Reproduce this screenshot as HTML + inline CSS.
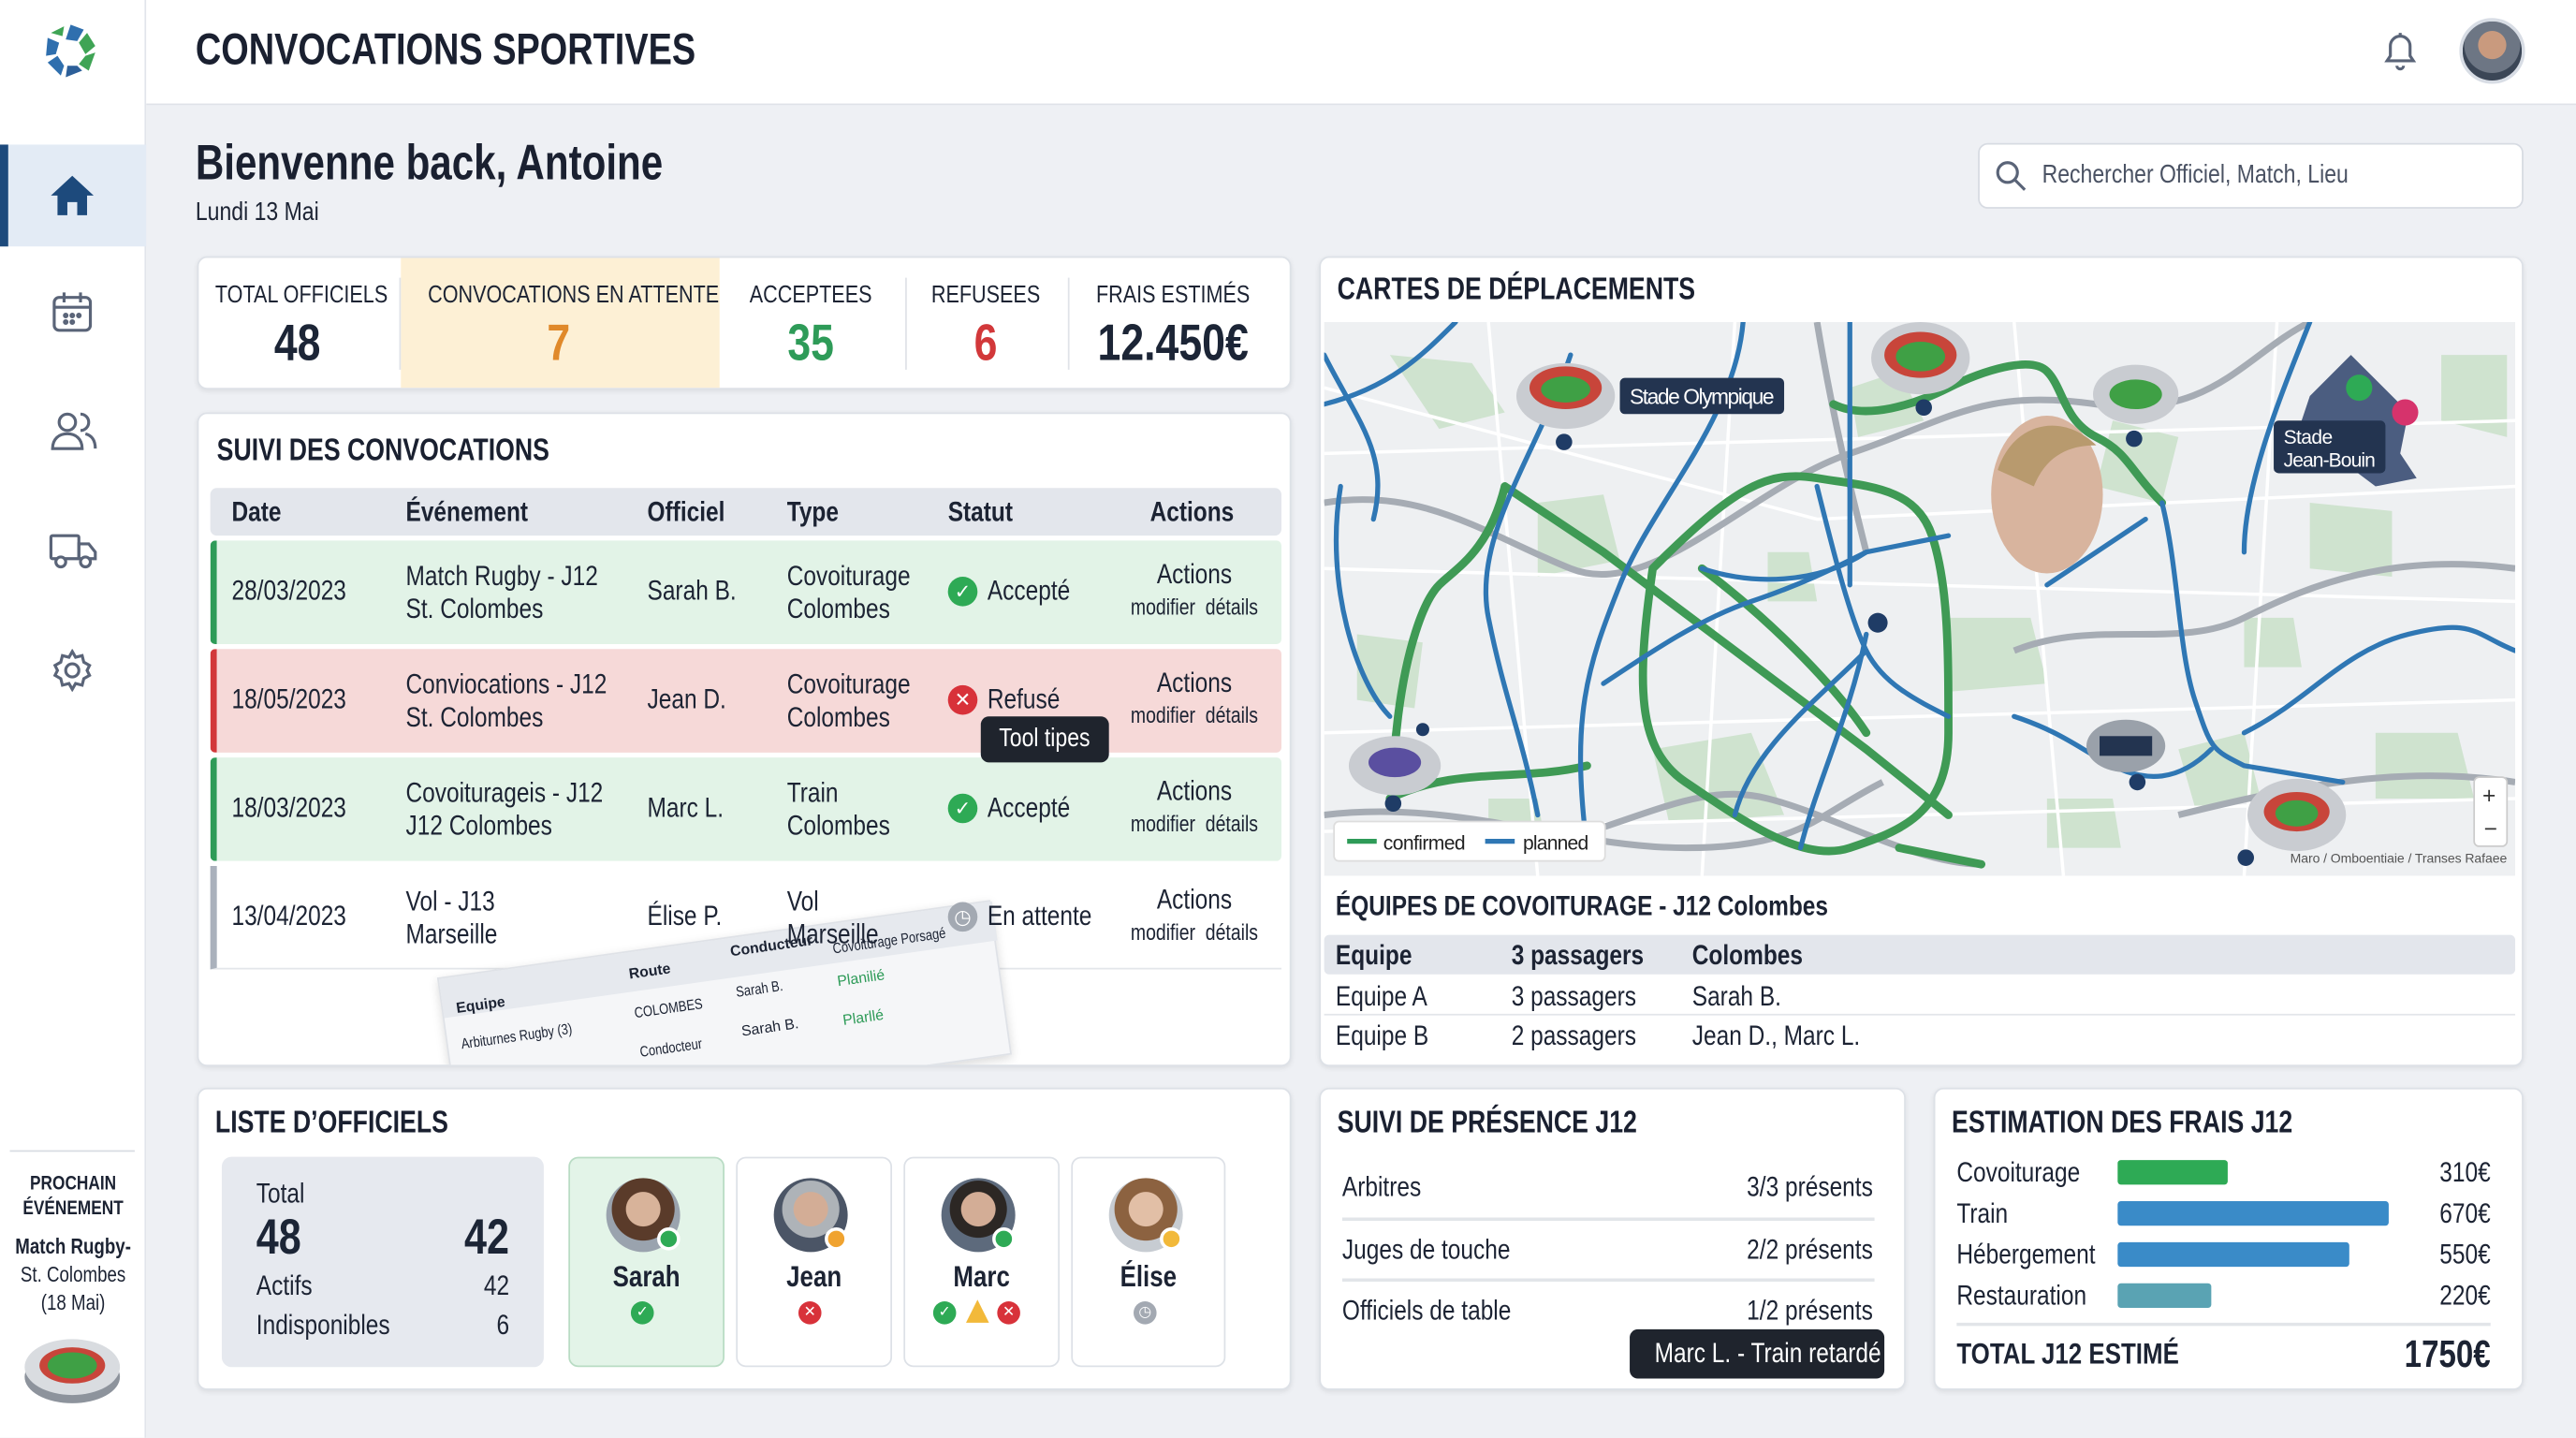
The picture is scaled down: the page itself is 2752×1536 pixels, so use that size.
<!DOCTYPE html>
<html><head><meta charset="utf-8">
<style>
*{box-sizing:border-box;margin:0;padding:0}
html,body{width:2752px;height:1536px;overflow:hidden;background:#eef0f4}
#w{position:absolute;left:0;top:0;width:1568px;height:875px;transform:scale(1.7551);transform-origin:0 0;font-family:"Liberation Sans",sans-serif;color:#1c2333;background:#eef0f4}
.a{position:absolute}
.card{position:absolute;background:#fff;border:1px solid #dde1e7;border-radius:6px;box-shadow:0 1px 3px rgba(0,0,0,.08)}
.n{transform:scaleX(.82);transform-origin:0 0;white-space:nowrap}
.c{transform-origin:50% 0}
.r{transform-origin:100% 0}
.h{font-weight:bold;font-size:19px;color:#1a2030;transform:scaleX(.8);transform-origin:0 0;white-space:nowrap}
.t{font-size:16px;white-space:nowrap}
.ic{position:absolute;border-radius:50%;width:18px;height:18px;color:#fff;font-size:12px;text-align:center;line-height:18px;font-family:"DejaVu Sans",sans-serif}
.sp{display:inline-block;transform:scaleX(.82)}
</style></head><body><div id="w">
<!-- sidebar -->
<div class="a" style="left:0;top:0;width:89px;height:875px;background:#fff;border-right:1px solid #e1e4ea"></div>
<svg class="a" style="left:26px;top:13px" width="34" height="36" viewBox="0 0 34 36">
<path d="M17 2 L25 5 L21 12 L14 11 Z" fill="#2f6fae"/><path d="M27 7 L32 15 L26 20 L22 13 Z" fill="#3fa455"/><path d="M32 19 L28 30 L22 26 L26 21Z" fill="#3fa455"/><path d="M24 30 L14 34 L15 27 L21 27Z" fill="#2c5f99"/><path d="M11 33 L3 25 L9 21 L13 27Z" fill="#2f6fae"/><path d="M2 21 L3 10 L10 13 L8 20Z" fill="#2f6fae"/><path d="M5 7 L13 3 L12 9 Z" fill="#3fa455"/>
</svg>
<div class="a" style="left:0;top:88px;width:89px;height:62px;background:#e3ebf5"></div>
<div class="a" style="left:0;top:88px;width:5px;height:62px;background:#1d4a7c"></div>
<svg class="a" style="left:30px;top:104px" width="28" height="28" viewBox="0 0 28 28"><path d="M14 3 L27 15 H23 V27 H17 V19 H11 V27 H5 V15 H1 Z" fill="#1d4a7c"/></svg>
<svg class="a" style="left:31px;top:177px" width="26" height="26" viewBox="0 0 26 26" fill="none" stroke="#5a6478" stroke-width="1.8"><rect x="2" y="4" width="22" height="20" rx="3"/><path d="M2 10h22M8 1v6M18 1v6"/><circle cx="9" cy="15" r=".8"/><circle cx="13" cy="15" r=".8"/><circle cx="17" cy="15" r=".8"/><circle cx="9" cy="19" r=".8"/><circle cx="13" cy="19" r=".8"/></svg>
<svg class="a" style="left:30px;top:249px" width="30" height="26" viewBox="0 0 30 26" fill="none" stroke="#5a6478" stroke-width="1.8"><circle cx="11" cy="8" r="5"/><path d="M2 24c0-6 4-9 9-9s9 3 9 9z"/><path d="M19 3a5 5 0 0 1 0 10M22 15c4 1 6 4 6 9"/></svg>
<svg class="a" style="left:29px;top:323px" width="30" height="24" viewBox="0 0 30 24" fill="none" stroke="#5a6478" stroke-width="1.8"><rect x="2" y="3" width="17" height="14" rx="1"/><path d="M19 8h6l4 5v4h-10z"/><circle cx="8" cy="19" r="3" fill="#fff"/><circle cx="23" cy="19" r="3" fill="#fff"/></svg>
<svg class="a" style="left:31px;top:395px" width="26" height="26" viewBox="0 0 26 26" fill="none" stroke="#5a6478" stroke-width="1.8"><circle cx="13" cy="13" r="4"/><path d="M13 1.5l2 3.5 4-1 1 4 3.5 2-1.5 3 1.5 3-3.5 2-1 4-4-1-2 3.5-2-3.5-4 1-1-4-3.5-2 1.5-3-1.5-3 3.5-2 1-4 4 1z"/></svg>
<div class="a" style="left:6px;top:700px;width:76px;height:1px;background:#d8dce3"></div>
<div class="a n c" style="left:0;top:713px;width:89px;text-align:center;font-size:12px;font-weight:bold;line-height:15px">PROCHAIN<br>ÉVÉNEMENT</div>
<div class="a n c" style="left:0;top:750px;width:89px;text-align:center;font-size:13px;line-height:17px"><b>Match Rugby-</b><br>St. Colombes<br>(18 Mai)</div>
<svg class="a" style="left:14px;top:810px" width="60" height="46" viewBox="0 0 60 46"><ellipse cx="30" cy="28" rx="29" ry="16" fill="#8d939c"/><ellipse cx="30" cy="22" rx="29" ry="17" fill="#d9dce0"/><ellipse cx="30" cy="21" rx="20" ry="11" fill="#c8453a"/><ellipse cx="30" cy="21" rx="15" ry="8" fill="#3fa045"/></svg>
<!-- header -->
<div class="a" style="left:89px;top:0;width:1479px;height:64px;background:#fff;border-bottom:1px solid #dfe2e8"></div>
<div class="a h" style="left:119px;top:15px;font-size:27px">CONVOCATIONS SPORTIVES</div>
<svg class="a" style="left:1449px;top:18px" width="24" height="26" viewBox="0 0 24 26" fill="none" stroke="#5a6478" stroke-width="1.8"><path d="M4 19h16l-2-3V10a6 6 0 0 0-12 0v6z"/><path d="M10 22a2 2 0 0 0 4 0M12 2v2"/></svg>
<div class="a" style="left:1497px;top:11px;width:40px;height:40px;border-radius:50%;background:radial-gradient(circle at 50% 40%,#c99a7e 0 30%,#6d7684 31% 60%,#3b4656 61%);border:2px solid #d8dde5"></div>
<!-- welcome -->
<div class="a h" style="left:119px;top:83px;font-size:30px">Bienvenne back, Antoine</div>
<div class="a t n" style="left:119px;top:121px">Lundi 13 Mai</div>
<div class="a" style="left:1204px;top:87px;width:332px;height:40px;background:#fff;border:1px solid #d7dbe2;border-radius:6px"></div>
<svg class="a" style="left:1214px;top:97px" width="20" height="20" viewBox="0 0 20 20" fill="none" stroke="#5a6478" stroke-width="1.8"><circle cx="8" cy="8" r="6"/><path d="M12.5 12.5l6 6"/></svg>
<div class="a t n" style="left:1243px;top:98px;color:#4a5263">Rechercher Officiel, Match, Lieu</div>
<!-- KPI -->
<div class="card" style="left:120px;top:156px;width:666px;height:81px;overflow:hidden">
<div class="a" style="left:123px;top:0;width:194px;height:81px;background:#fdf0d5"></div>
<div class="a" style="left:430px;top:12px;width:1px;height:56px;background:#e0e3e8"></div>
<div class="a" style="left:529px;top:12px;width:1px;height:56px;background:#e0e3e8"></div>
<div class="a" style="left:122px;top:12px;width:1px;height:56px;background:#e0e3e8"></div>
</div>
<div class="a t n c" style="left:120px;top:171px;width:122px;text-align:center;font-size:15px">TOTAL OFFICIELS</div>
<div class="a t n c" style="left:243px;top:171px;width:194px;text-align:center;font-size:15px">CONVOCATIONS EN ATTENTE</div>
<div class="a t n c" style="left:437px;top:171px;width:113px;text-align:center;font-size:15px">ACCEPTEES</div>
<div class="a t n c" style="left:550px;top:171px;width:100px;text-align:center;font-size:15px">REFUSEES</div>
<div class="a t n c" style="left:650px;top:171px;width:128px;text-align:center;font-size:15px">FRAIS ESTIMÉS</div>
<div class="a n c" style="left:120px;top:191px;width:122px;text-align:center;font-size:31px;font-weight:bold;color:#1c2536">48</div>
<div class="a n c" style="left:243px;top:191px;width:194px;text-align:center;font-size:31px;font-weight:bold;color:#e0892a">7</div>
<div class="a n c" style="left:437px;top:191px;width:113px;text-align:center;font-size:31px;font-weight:bold;color:#2e9b58">35</div>
<div class="a n c" style="left:550px;top:191px;width:100px;text-align:center;font-size:31px;font-weight:bold;color:#d2383a">6</div>
<div class="a n c" style="left:650px;top:191px;width:128px;text-align:center;font-size:31px;font-weight:bold;color:#1c2536">12.450€</div>
<!-- Suivi -->
<div class="card" style="left:120px;top:251px;width:666px;height:398px;overflow:hidden">
 <div class="a h" style="left:11px;top:12px">SUIVI DES CONVOCATIONS</div>
 <div class="a" style="left:7px;top:45px;width:652px;height:29px;background:#e3e6ec;border-radius:4px"></div>
 <div class="a" style="left:7px;top:77px;width:652px;height:63px;background:#e2f3e7;border-left:4px solid #2e9b58;border-radius:3px"></div>
 <div class="a" style="left:7px;top:143px;width:652px;height:63px;background:#f6d9d8;border-left:4px solid #d2383a;border-radius:3px"></div>
 <div class="a" style="left:7px;top:209px;width:652px;height:63px;background:#e2f3e7;border-left:4px solid #2e9b58;border-radius:3px"></div>
 <div class="a" style="left:7px;top:275px;width:652px;height:63px;background:#fff;border-left:4px solid #aab1bc;border-bottom:1px solid #e3e6ea"></div>
 <div class="a" style="left:145px;top:343px;width:340px;height:95px;transform:rotate(-8deg);transform-origin:0 0;background:#f5f6f8;border:1px solid #dfe2e7;box-shadow:0 2px 6px rgba(0,0,0,.15);font-size:9px">
  <div class="a" style="left:0;top:0;width:340px;height:24px;background:#e6e9ee"></div>
  <div class="a" style="left:8px;top:14px;font-weight:bold">Equipe</div>
  <div class="a" style="left:115px;top:8px;font-weight:bold">Route</div>
  <div class="a" style="left:178px;top:3px;font-weight:bold">Conducteur</div>
  <div class="a n" style="left:240px;top:10px;font-size:9px">Covoiturage Porsagé</div>
  <div class="a n" style="left:8px;top:36px">Arbiturnes Rugby (3)</div>
  <div class="a n" style="left:115px;top:32px">COLOMBES</div>
  <div class="a n" style="left:178px;top:28px">Sarah B.</div>
  <div class="a" style="left:240px;top:30px;color:#2e9b58">Planilié</div>
  <div class="a n" style="left:115px;top:56px">Condocteur</div>
  <div class="a" style="left:178px;top:52px">Sarah B.</div>
  <div class="a" style="left:240px;top:54px;color:#2e9b58">Plarllé</div>
  <div class="a" style="left:8px;top:62px">Rugby</div>
 </div>
</div>
<div class="a t n" style="left:141px;top:302px;font-weight:bold;font-size:17px">Date</div>
<div class="a t n" style="left:247px;top:302px;font-weight:bold;font-size:17px">Événement</div>
<div class="a t n" style="left:394px;top:302px;font-weight:bold;font-size:17px">Officiel</div>
<div class="a t n" style="left:479px;top:302px;font-weight:bold;font-size:17px">Type</div>
<div class="a t n" style="left:577px;top:302px;font-weight:bold;font-size:17px">Statut</div>
<div class="a t n" style="left:700px;top:302px;font-weight:bold;font-size:17px">Actions</div>
<!-- rows -->
<div class="a t n" style="left:141px;top:350px;font-size:17px">28/03/2023</div>
<div class="a t n" style="left:247px;top:341px;line-height:20px;font-size:17px">Match Rugby - J12<br>St. Colombes</div>
<div class="a t n" style="left:394px;top:350px;font-size:17px">Sarah B.</div>
<div class="a t n" style="left:479px;top:341px;line-height:20px;font-size:17px">Covoiturage<br>Colombes</div>
<div class="ic" style="left:577px;top:351px;background:#2eaa55">✓</div><div class="a t n" style="left:601px;top:350px;font-size:17px">Accepté</div>
<div class="a t n c" style="left:681px;top:340px;width:92px;text-align:center;font-size:17px">Actions</div><div class="a n c" style="left:671px;top:362px;width:112px;text-align:center;font-size:13.5px">modifier&nbsp; détails</div>

<div class="a t n" style="left:141px;top:416px;font-size:17px">18/05/2023</div>
<div class="a t n" style="left:247px;top:407px;line-height:20px;font-size:17px">Conviocations - J12<br>St. Colombes</div>
<div class="a t n" style="left:394px;top:416px;font-size:17px">Jean D.</div>
<div class="a t n" style="left:479px;top:407px;line-height:20px;font-size:17px">Covoiturage<br>Colombes</div>
<div class="ic" style="left:577px;top:417px;background:#d8323a">✕</div><div class="a t n" style="left:601px;top:416px;font-size:17px">Refusé</div>
<div class="a t n c" style="left:681px;top:406px;width:92px;text-align:center;font-size:17px">Actions</div><div class="a n c" style="left:671px;top:428px;width:112px;text-align:center;font-size:13.5px">modifier&nbsp; détails</div>
<div class="a" style="left:597px;top:436px;width:78px;height:28px;background:#1f242d;border-radius:5px;color:#fff;font-size:16px;text-align:center;line-height:28px"><span class="sp">Tool tipes</span></div>

<div class="a t n" style="left:141px;top:482px;font-size:17px">18/03/2023</div>
<div class="a t n" style="left:247px;top:473px;line-height:20px;font-size:17px">Covoiturageis - J12<br>J12 Colombes</div>
<div class="a t n" style="left:394px;top:482px;font-size:17px">Marc L.</div>
<div class="a t n" style="left:479px;top:473px;line-height:20px;font-size:17px">Train<br>Colombes</div>
<div class="ic" style="left:577px;top:483px;background:#2eaa55">✓</div><div class="a t n" style="left:601px;top:482px;font-size:17px">Accepté</div>
<div class="a t n c" style="left:681px;top:472px;width:92px;text-align:center;font-size:17px">Actions</div><div class="a n c" style="left:671px;top:494px;width:112px;text-align:center;font-size:13.5px">modifier&nbsp; détails</div>

<div class="a t n" style="left:141px;top:548px;font-size:17px">13/04/2023</div>
<div class="a t n" style="left:247px;top:539px;line-height:20px;font-size:17px">Vol - J13<br>Marseille</div>
<div class="a t n" style="left:394px;top:548px;font-size:17px">Élise P.</div>
<div class="a t n" style="left:479px;top:539px;line-height:20px;font-size:17px">Vol<br>Marseille</div>
<div class="ic" style="left:577px;top:549px;background:#a3a9b2">◷</div><div class="a t n" style="left:601px;top:548px;font-size:17px">En attente</div>
<div class="a t n c" style="left:681px;top:538px;width:92px;text-align:center;font-size:17px">Actions</div><div class="a n c" style="left:671px;top:560px;width:112px;text-align:center;font-size:13.5px">modifier&nbsp; détails</div>

<!-- Map card -->
<div class="card" style="left:803px;top:156px;width:733px;height:493px"></div>
<div class="a h" style="left:814px;top:166px">CARTES DE DÉPLACEMENTS</div>
<svg class="a" style="left:806px;top:196px" width="725" height="337" viewBox="0 0 725 337">
<rect width="725" height="337" fill="#eef0f2"/>
<g fill="#cfe3cf">
<path d="M40 20 l50 5 20 30 -40 10z"/><path d="M130 110 l40 -5 10 40 -50 10z"/><path d="M200 260 l60 -10 20 50 -70 5z"/><path d="M380 180 l50 0 10 40 -60 5z"/><path d="M480 60 l40 10 -10 40 -40 -10z"/><path d="M600 110 l50 5 0 40 -50 -5z"/><path d="M640 250 l50 0 10 40 -60 0z"/><path d="M20 190 l40 5 -5 40 -35 -5z"/><path d="M320 40 l30 -10 15 30 -40 10z"/><path d="M520 260 l40 -10 10 40 -40 5z"/><path d="M270 140 l25 0 5 30 -30 0z"/><path d="M560 180 l30 0 5 30 -35 0z"/><path d="M100 290 l30 0 5 30 -35 0z"/><path d="M680 20 l40 0 0 50 -40 -10z"/><path d="M440 290 l40 0 5 30 -45 0z"/>
</g>
<g fill="none" stroke="#fff" stroke-width="2"><path d="M0 80 L725 60M0 150 L725 170M0 250 L725 230M100 0 L130 337M250 0 L230 337M420 0 L450 337M580 0 L560 337M0 40 L300 120 L725 100M0 310 L725 290"/></g>
<g fill="none" stroke="#a6acb4" stroke-width="4"><path d="M0 110 C60 100 100 130 150 150 S260 100 320 80 S400 40 470 50 S560 20 600 0"/><path d="M0 300 C80 290 150 320 220 320 S300 300 340 280"/><path d="M130 320 C200 300 230 280 270 290 S360 330 400 330"/><path d="M420 200 C470 180 520 200 560 180 S650 140 725 150"/><path d="M520 300 C600 280 660 270 725 280"/><path d="M300 0 C310 60 320 100 330 140"/></g>
<g fill="none" stroke="#3f9a55" stroke-width="5" stroke-linecap="round"><path d="M110 100 L170 140 L250 200 L330 260 L380 300"/><path d="M110 100 C100 140 80 150 70 160 S50 200 45 240 L40 285"/><path d="M40 290 C80 270 120 280 160 270"/><path d="M230 150 C270 180 310 220 330 250"/><path d="M200 150 C250 100 270 90 300 95 S360 100 370 130 S380 200 380 250 S350 310 320 320 S250 300 220 280 S190 220 200 150"/><path d="M310 50 C330 60 360 50 380 40 S430 20 440 30 S450 60 470 70 S490 90 510 110"/><path d="M350 320 L400 330"/></g>
<g fill="none" stroke="#2f77b4" stroke-width="3" stroke-linecap="round"><path d="M0 50 C40 40 60 20 80 0"/><path d="M10 100 C0 160 20 220 40 240"/><path d="M150 20 C130 80 90 130 100 180 S120 250 130 300"/><path d="M170 220 C200 200 230 180 260 170 S310 150 330 140"/><path d="M255 0 C250 60 200 110 180 160 S150 240 160 320"/><path d="M320 0 L320 160"/><path d="M300 100 C310 140 320 180 330 200 S360 230 380 240"/><path d="M330 190 C320 240 300 280 290 320"/><path d="M230 150 C260 160 300 160 330 140 L380 130"/><path d="M420 240 C450 250 460 260 480 270 S520 280 540 260"/><path d="M510 110 C520 150 520 200 530 230 S540 260 560 270 L620 280"/><path d="M500 120 L440 160"/><path d="M560 250 C600 230 620 200 660 190 S700 190 725 200"/><path d="M0 20 C20 60 40 80 30 120"/><path d="M330 200 C300 230 260 260 250 300"/><path d="M600 0 C580 50 560 100 560 140"/></g>
<ellipse cx="440" cy="105" rx="34" ry="48" fill="#d8b49e"/><path d="M410 90 C420 60 450 55 470 75 C455 75 440 80 432 100 Z" fill="#b89a6e"/>
<path d="M600 45 L625 20 L640 35 L660 55 L655 80 L665 95 L640 100 L620 85 L600 80 L595 60 Z" fill="#4b5d80"/>
<circle cx="630" cy="40" r="8" fill="#2eaa55"/><circle cx="658" cy="55" r="8" fill="#d6336c"/>
<rect x="578" y="60" width="68" height="32" rx="3" fill="#233450"/>
<text x="584" y="74" fill="#fff" font-size="12" font-family="Liberation Sans,sans-serif" textLength="30">Stade</text>
<text x="584" y="88" fill="#fff" font-size="12" font-family="Liberation Sans,sans-serif" textLength="56">Jean-Bouin</text>
<rect x="180" y="34" width="100" height="22" rx="3" fill="#233450"/>
<text x="186" y="50" fill="#fff" font-size="13" font-family="Liberation Sans,sans-serif" textLength="88">Stade Olympique</text>
<g><ellipse cx="147" cy="45" rx="30" ry="20" fill="#c9ccd1"/><ellipse cx="147" cy="40" rx="22" ry="13" fill="#c8453a"/><ellipse cx="147" cy="41" rx="15" ry="8" fill="#3fa045"/></g>
<g><ellipse cx="363" cy="22" rx="30" ry="22" fill="#c9ccd1"/><ellipse cx="363" cy="20" rx="22" ry="14" fill="#c8453a"/><ellipse cx="363" cy="21" rx="15" ry="9" fill="#3fa045"/></g>
<g><ellipse cx="494" cy="44" rx="26" ry="18" fill="#c9ccd1"/><ellipse cx="494" cy="44" rx="16" ry="9" fill="#3fa045"/></g>
<g><ellipse cx="43" cy="270" rx="28" ry="18" fill="#c9ccd1"/><ellipse cx="43" cy="268" rx="16" ry="9" fill="#5a4fa0"/></g>
<g><ellipse cx="488" cy="258" rx="24" ry="16" fill="#9aa1aa"/><rect x="472" y="252" width="32" height="12" fill="#233450"/></g>
<g><ellipse cx="592" cy="300" rx="30" ry="22" fill="#c9ccd1"/><ellipse cx="592" cy="298" rx="20" ry="12" fill="#c8453a"/><ellipse cx="592" cy="299" rx="13" ry="8" fill="#3fa045"/></g>
<g fill="#1f3c66"><circle cx="146" cy="73" r="5"/><circle cx="365" cy="52" r="5"/><circle cx="493" cy="71" r="5"/><circle cx="337" cy="183" r="6"/><circle cx="60" cy="248" r="4"/><circle cx="42" cy="293" r="5"/><circle cx="495" cy="280" r="5"/><circle cx="561" cy="326" r="5"/></g>
<rect x="700" y="277" width="20" height="42" rx="3" fill="#fff" stroke="#ccc"/>
<text x="705" y="293" font-size="14" fill="#333">+</text><text x="706" y="313" font-size="14" fill="#333">−</text>
<text x="588" y="329" font-size="8" fill="#555" font-family="Liberation Sans,sans-serif" textLength="132">Maro / Omboentiaie / Transes Rafaee</text>
<rect x="6" y="304" width="165" height="24" rx="3" fill="#fff" stroke="#ddd"/>
<path d="M14 316h18" stroke="#2e9b58" stroke-width="3"/><text x="36" y="321" font-size="12" fill="#222" font-family="Liberation Sans,sans-serif" textLength="50">confirmed</text>
<path d="M98 316h18" stroke="#2f77b4" stroke-width="3"/><text x="121" y="321" font-size="12" fill="#222" font-family="Liberation Sans,sans-serif" textLength="40">planned</text>
</svg>
<div class="a t n" style="left:813px;top:542px;font-weight:bold;font-size:17px">ÉQUIPES DE COVOITURAGE - J12 Colombes</div>
<div class="a" style="left:806px;top:569px;width:725px;height:24px;background:#e3e6ec;border-radius:3px"></div>
<div class="a t n" style="left:813px;top:572px;font-weight:bold;font-size:17px">Equipe</div><div class="a t n" style="left:920px;top:572px;font-weight:bold;font-size:17px">3 passagers</div><div class="a t n" style="left:1030px;top:572px;font-weight:bold;font-size:17px">Colombes</div>
<div class="a t n" style="left:813px;top:597px;font-size:17px">Equipe A</div><div class="a t n" style="left:920px;top:597px;font-size:17px">3 passagers</div><div class="a t n" style="left:1030px;top:597px;font-size:17px">Sarah B.</div>
<div class="a" style="left:806px;top:617px;width:725px;height:1px;background:#e3e6ea"></div>
<div class="a t n" style="left:813px;top:621px;font-size:17px">Equipe B</div><div class="a t n" style="left:920px;top:621px;font-size:17px">2 passagers</div><div class="a t n" style="left:1030px;top:621px;font-size:17px">Jean D., Marc L.</div>
<!-- Liste -->
<div class="card" style="left:120px;top:662px;width:666px;height:184px"></div>
<div class="a h" style="left:131px;top:673px">LISTE D’OFFICIELS</div>
<div class="a" style="left:135px;top:704px;width:196px;height:128px;background:#e6e9ef;border-radius:6px"></div>
<div class="a t n" style="left:156px;top:717px;font-size:17px">Total</div>
<div class="a n" style="left:156px;top:737px;font-size:30px;font-weight:bold;color:#1c2536">48</div>
<div class="a n r" style="left:260px;top:737px;width:50px;text-align:right;font-size:30px;font-weight:bold;color:#1c2536">42</div>
<div class="a t n" style="left:156px;top:773px;font-size:17px">Actifs</div><div class="a t n r" style="left:270px;top:773px;width:40px;text-align:right;font-size:17px">42</div>
<div class="a t n" style="left:156px;top:797px;font-size:17px">Indisponibles</div><div class="a t n r" style="left:270px;top:797px;width:40px;text-align:right;font-size:17px">6</div>
<div class="a" style="left:346px;top:704px;width:95px;height:128px;background:#e3f4e8;border:1px solid #b9dcc4;border-radius:6px"></div>
<div class="a" style="left:448px;top:704px;width:95px;height:128px;background:#fff;border:1px solid #dde1e7;border-radius:6px"></div>
<div class="a" style="left:550px;top:704px;width:95px;height:128px;background:#fff;border:1px solid #dde1e7;border-radius:6px"></div>
<div class="a" style="left:652px;top:704px;width:94px;height:128px;background:#fff;border:1px solid #dde1e7;border-radius:6px"></div>
<div class="a" style="left:369px;top:717px;width:45px;height:45px;border-radius:50%;background:radial-gradient(circle at 50% 42%,#d8b39a 0 30%,#5a3b2a 31% 55%,#9aa3ae 56%)"></div>
<div class="a" style="left:471px;top:717px;width:45px;height:45px;border-radius:50%;background:radial-gradient(circle at 50% 42%,#d3ad96 0 30%,#aeb3b8 31% 50%,#4b5566 51%)"></div>
<div class="a" style="left:573px;top:717px;width:45px;height:45px;border-radius:50%;background:radial-gradient(circle at 50% 42%,#d3ad96 0 30%,#2c2724 31% 50%,#5d6a7c 51%)"></div>
<div class="a" style="left:675px;top:717px;width:45px;height:45px;border-radius:50%;background:radial-gradient(circle at 50% 42%,#e2bfa6 0 30%,#8c6240 31% 55%,#c7ccd2 56%)"></div>
<div class="a" style="left:400px;top:747px;width:14px;height:14px;border-radius:50%;background:#2eaa55;border:2px solid #fff"></div>
<div class="a" style="left:502px;top:747px;width:14px;height:14px;border-radius:50%;background:#f0a330;border:2px solid #fff"></div>
<div class="a" style="left:604px;top:747px;width:14px;height:14px;border-radius:50%;background:#2eaa55;border:2px solid #fff"></div>
<div class="a" style="left:706px;top:747px;width:14px;height:14px;border-radius:50%;background:#f2b93a;border:2px solid #fff"></div>
<div class="a n c" style="left:346px;top:767px;width:95px;text-align:center;font-size:18px;font-weight:bold">Sarah</div>
<div class="a n c" style="left:448px;top:767px;width:95px;text-align:center;font-size:18px;font-weight:bold">Jean</div>
<div class="a n c" style="left:550px;top:767px;width:95px;text-align:center;font-size:18px;font-weight:bold">Marc</div>
<div class="a n c" style="left:652px;top:767px;width:94px;text-align:center;font-size:18px;font-weight:bold">Élise</div>
<div class="ic" style="left:384px;top:792px;width:14px;height:14px;line-height:14px;font-size:9px;background:#2eaa55">✓</div>
<div class="ic" style="left:486px;top:792px;width:14px;height:14px;line-height:14px;font-size:9px;background:#d8323a">✕</div>
<div class="ic" style="left:568px;top:792px;width:14px;height:14px;line-height:14px;font-size:9px;background:#2eaa55">✓</div>
<div class="a" style="left:588px;top:791px;width:0;height:0;border-left:7px solid transparent;border-right:7px solid transparent;border-bottom:14px solid #f2b93a"></div>
<div class="ic" style="left:607px;top:792px;width:14px;height:14px;line-height:14px;font-size:9px;background:#d8323a">✕</div>
<div class="ic" style="left:690px;top:792px;width:14px;height:14px;line-height:14px;font-size:9px;background:#a3a9b2">◷</div>
<!-- presence -->
<div class="card" style="left:803px;top:662px;width:357px;height:184px"></div>
<div class="a h" style="left:814px;top:673px">SUIVI DE PRÉSENCE J12</div>
<div class="a t n" style="left:817px;top:713px;font-size:17px">Arbitres</div><div class="a t n r" style="left:1030px;top:713px;width:110px;text-align:right;font-size:17px">3/3 présents</div>
<div class="a" style="left:817px;top:741px;width:324px;height:2px;background:#e2e5e9"></div>
<div class="a t n" style="left:817px;top:751px;font-size:17px">Juges de touche</div><div class="a t n r" style="left:1030px;top:751px;width:110px;text-align:right;font-size:17px">2/2 présents</div>
<div class="a" style="left:817px;top:778px;width:324px;height:2px;background:#e2e5e9"></div>
<div class="a t n" style="left:817px;top:788px;font-size:17px">Officiels de table</div><div class="a t n r" style="left:1030px;top:788px;width:110px;text-align:right;font-size:17px">1/2 présents</div>
<div class="a" style="left:992px;top:809px;width:155px;height:30px;background:#1f242d;border-radius:5px;color:#fff;font-size:17px;text-align:center;line-height:30px;white-space:nowrap"><span class="sp">Marc L. - Train retardé</span></div>
<!-- frais -->
<div class="card" style="left:1177px;top:662px;width:359px;height:184px"></div>
<div class="a h" style="left:1188px;top:673px">ESTIMATION DES FRAIS J12</div>
<div class="a t n" style="left:1191px;top:704px;font-size:17px">Covoiturage</div><div class="a" style="left:1289px;top:706px;width:67px;height:15px;background:#2eaa55;border-radius:2px"></div><div class="a t n r" style="left:1460px;top:704px;width:56px;text-align:right;font-size:17px">310€</div>
<div class="a t n" style="left:1191px;top:729px;font-size:17px">Train</div><div class="a" style="left:1289px;top:731px;width:165px;height:15px;background:#3a8bc8;border-radius:2px"></div><div class="a t n r" style="left:1460px;top:729px;width:56px;text-align:right;font-size:17px">670€</div>
<div class="a t n" style="left:1191px;top:754px;font-size:17px">Hébergement</div><div class="a" style="left:1289px;top:756px;width:141px;height:15px;background:#3a8bc8;border-radius:2px"></div><div class="a t n r" style="left:1460px;top:754px;width:56px;text-align:right;font-size:17px">550€</div>
<div class="a t n" style="left:1191px;top:779px;font-size:17px">Restauration</div><div class="a" style="left:1289px;top:781px;width:57px;height:15px;background:#5aa3b3;border-radius:2px"></div><div class="a t n r" style="left:1460px;top:779px;width:56px;text-align:right;font-size:17px">220€</div>
<div class="a" style="left:1191px;top:805px;width:325px;height:2px;background:#e2e5e9"></div>
<div class="a t n" style="left:1191px;top:814px;font-weight:bold;font-size:18px">TOTAL J12 ESTIMÉ</div>
<div class="a n r" style="left:1420px;top:811px;width:96px;text-align:right;font-size:23px;font-weight:bold">1750€</div>
</div></body></html>
